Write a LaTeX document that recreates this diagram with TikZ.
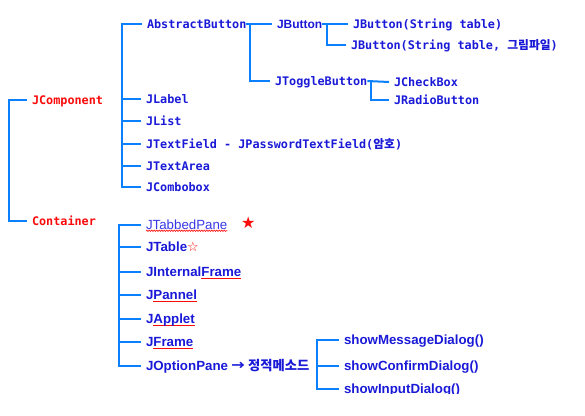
\documentclass[tikz,border=0pt]{standalone}
\usepackage{fontspec}
\setmainfont{Liberation Sans}
\newfontfamily\monof{DejaVu Sans Mono}
\newfontfamily\krf{Noto Sans CJK KR}
\newfontfamily\symf{DejaVu Sans}
\usetikzlibrary{decorations.pathmorphing}
\definecolor{lineblue}{RGB}{10,128,255}
\definecolor{txtblue}{RGB}{25,25,215}
\definecolor{lightblue}{RGB}{55,55,230}
\definecolor{myred}{RGB}{250,10,10}
\newcommand\redul[1]{\setbox0\hbox{#1}\rlap{\color{myred}\rule[-3.2pt]{\wd0}{1.1pt}}\box0}
\begin{document}
\begin{tikzpicture}[x=1pt,y=-1pt,
  conn/.style={draw=lineblue,line width=2pt},
  lbl/.style={anchor=west,inner sep=0pt,outer sep=5pt,text height=8.5pt,text depth=0pt},
  monotxt/.style={lbl,font=\monof\bfseries\fontsize{11.8}{12}\selectfont,text=txtblue},
  redmono/.style={lbl,font=\monof\bfseries\fontsize{11.8}{12}\selectfont,text=myred},
  sanstxt/.style={lbl,font=\bfseries\fontsize{13.3}{14}\selectfont,text=txtblue},
  sansjb/.style={lbl,font=\bfseries\fontsize{12}{13}\selectfont,text=txtblue}]
\useasboundingbox (0,0) rectangle (585,415);
% roots
\node[redmono] (jc) at (27,100) {JComponent};
\node[redmono] (ct) at (27,221) {Container};
\draw[conn] (jc.west) -- ++(-18,0) |- (ct.west);
% JComponent children
\node[monotxt] (ab) at (142,24) {AbstractButton};
\node[monotxt] (jl) at (141,99) {JLabel};
\node[monotxt] (jli) at (141,121) {JList};
\node[monotxt] (jtf) at (141,144) {JTextField - JPasswordTextField({\krf\bfseries 암호})};
\node[monotxt] (jta) at (141,166) {JTextArea};
\node[monotxt] (jcb) at (141,187) {JCombobox};
\draw[conn] (ab.west) -- ++(-20,0) |- (jcb.west);
\foreach \n in {jl,jli,jtf,jta} \draw[conn] (\n.west) -- ++(-20,0);
% AbstractButton children
\node[sansjb] (jb) at (272,24) {JButton};
\node[monotxt] (jtb) at (270,81) {JToggleButton};
\draw[conn] ([xshift=-5pt]ab.east) -- (jb.west);
\draw[conn] ([xshift=-1pt]ab.east) |- (jtb.west);
% JButton children
\node[monotxt] (jb1) at (348,24) {JButton(String table)};
\node[monotxt] (jb2) at (346,45) {JButton(String table, {\krf\bfseries 그림파일})};
\draw[conn] ([xshift=-5pt]jb.east) -- (jb1.west);
\draw[conn] (jb.east) |- (jb2.west);
% JToggleButton children
\node[monotxt] (jcx) at (389,82) {JCheckBox};
\node[monotxt] (jrb) at (389,100) {JRadioButton};
\draw[conn] ([xshift=-5pt]jtb.east) -- (jcx.west);
\draw[conn] ([xshift=-1pt]jtb.east) |- (jrb.west);
% Container children
\node[lbl,font=\fontsize{13.3}{14}\selectfont,text=lightblue] (tp) at (141,225) {JTabbedPane};
\node[lbl,text=myred,font=\symf\fontsize{16}{16}\selectfont] (star) at (236,224) {★};
\node[sanstxt] (tb) at (141,247) {JTable{\symf\bfseries\color{myred}\fontsize{13}{13}\selectfont ☆}};
\node[sanstxt] (inf) at (141,272) {JInternal\redul{Frame}};
\node[sanstxt] (pn) at (141,295) {J\redul{Pannel}};
\node[sanstxt] (ap) at (141,319) {J\redul{Applet}};
\node[sanstxt] (fr) at (141,342) {J\redul{Frame}};
\node[sanstxt] (op) at (141,366) {JOptionPane {\krf\bfseries → 정적메소드}};
\draw[conn] (tp.west) -- ++(-22,0) |- (op.west);
\foreach \n in {tb,inf,pn,ap,fr} \draw[conn] (\n.west) -- ++(-22,0);
\draw[myred,line width=0.6pt,decorate,decoration={snake,amplitude=0.7pt,segment length=2.5pt}]
  ([xshift=5pt,yshift=3.5pt]tp.south west) -- ([xshift=-5pt,yshift=3.5pt]tp.south east);
% JOptionPane static methods
\begin{scope}
\clip (0,0) rectangle (585,393);
\node[sanstxt] (sm) at (339,340) {showMessageDialog()};
\node[sanstxt] (sc) at (339,366) {showConfirmDialog()};
\node[sanstxt] (si) at (339,389) {showInputDialog()};
\end{scope}
\draw[conn] (sm.west) -- ++(-22,0) |- (si.west);
\draw[conn] (sc.west) -- ++(-22,0);
\end{tikzpicture}
\end{document}
